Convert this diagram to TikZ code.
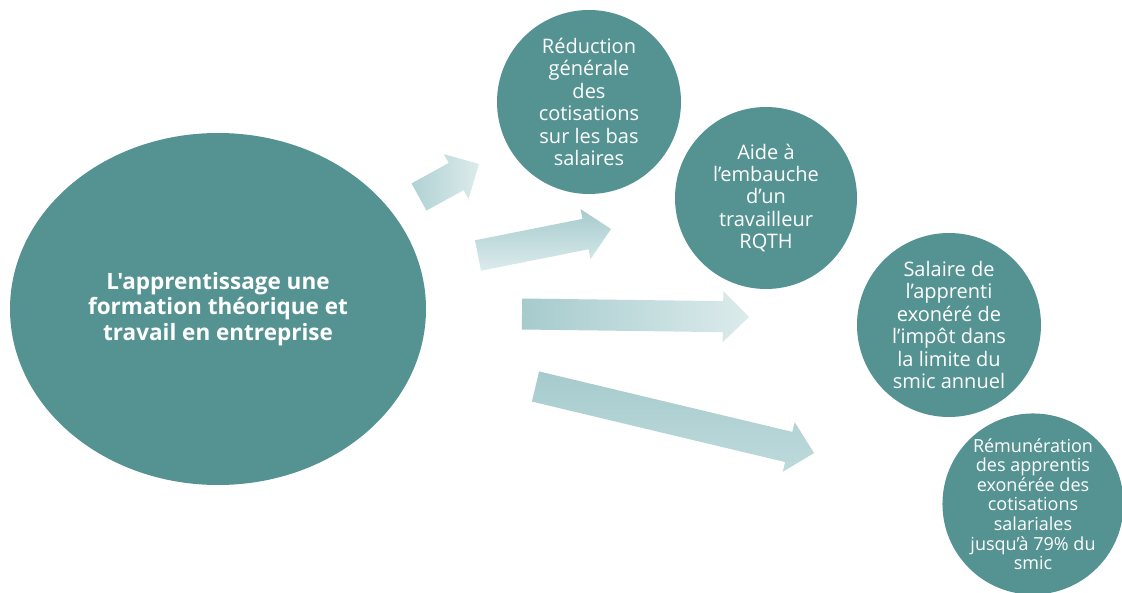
\documentclass[tikz,border=0pt]{standalone}
\usepackage{fontspec}
\setmainfont{Open Sans}[Ligatures=TeXOff]
\usetikzlibrary{calc,shapes.geometric}
\definecolor{tealc}{RGB}{85,147,147}
\definecolor{arrA}{RGB}{166,203,205}
\definecolor{arrB}{RGB}{220,235,236}
\definecolor{arrC}{RGB}{190,218,219}
\newcommand\fatarrow[4]{%
  \coordinate (#4-c) at ($(#3)!26pt!(#2)$);
  \path[#1] ($(#2)!15.5pt!90:(#3)$) -- ($(#4-c)!15.5pt!90:(#3)$) -- ($(#4-c)!25.5pt!90:(#3)$) -- (#3)
    -- ($(#4-c)!25.5pt!-90:(#3)$) -- ($(#4-c)!15.5pt!-90:(#3)$) -- ($(#2)!15.5pt!-90:(#3)$) -- cycle;}
\tikzset{
  bubble/.style={circle, fill=tealc, text=white, align=center, inner sep=0pt,
    font=\fontsize{20}{22.4}\selectfont},
  bigbubble/.style={ellipse, fill=tealc, inner sep=0pt}
}
\begin{document}
\begin{tikzpicture}[x=1pt,y=-1pt]
\useasboundingbox (0,0) rectangle (1122,593);
\fill[white] (0,0) rectangle (1122,593);
\node[bigbubble, minimum width=416pt, minimum height=352pt] (main) at (218,309) {};
\node[text=white, align=center, font=\fontsize{22.5}{25.5}\selectfont\bfseries] (maintext) at (218,309) {L'apprentissage une\\formation théorique et\\travail en entreprise};
% arrows
\coordinate (a1s) at (419,197); \coordinate (a1e) at (479,164);
\coordinate (a2s) at (478,255.5); \coordinate (a2e) at (611,229);
\coordinate (a3s) at (522,314); \coordinate (a3e) at (749,317);
\coordinate (a4s) at (535.5,386.5); \coordinate (a4e) at (814,453);
\fatarrow{left color=arrA!80!arrB, right color=arrB}{a1s}{a1e}{a1}
\fatarrow{top color=arrA, bottom color=arrB}{a2s}{a2e}{a2}
\fatarrow{left color=arrA, right color=arrB}{a3s}{a3e}{a3}
\fatarrow{top color=arrA, bottom color=arrC}{a4s}{a4e}{a4}
% circles
\node[bubble, minimum size=184pt] (c1) at (589,102) {Réduction\\générale\\des\\cotisations\\sur les bas\\salaires};
\node[bubble, minimum size=182pt] (c2) at (766,198) {Aide à\\l’embauche\\d’un\\travailleur\\RQTH};
\node[bubble, minimum size=184pt] (c3) at (949,325) {Salaire de\\l’apprenti\\exonéré de\\l’impôt dans\\la limite du\\smic annuel};
\node[bubble, minimum size=176pt, font=\fontsize{18}{19.6}\selectfont] (c4) at (1033,504) {Rémunération\\des apprentis\\exonérée des\\cotisations\\salariales\\jusqu’à 79\% du\\smic};
\end{tikzpicture}
\end{document}
